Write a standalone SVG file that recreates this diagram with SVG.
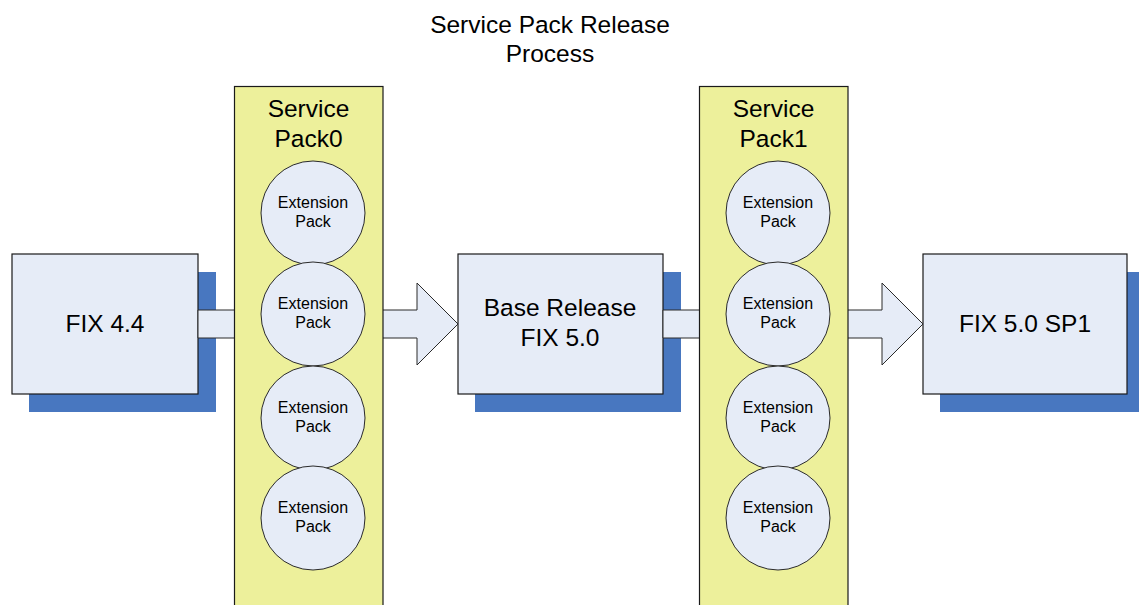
<svg xmlns="http://www.w3.org/2000/svg" width="1139" height="605" viewBox="0 0 1139 605">
<style>
text{font-family:"Liberation Sans",Arial,sans-serif;fill:#000;text-anchor:middle}
.big{font-size:24.5px}
.small{font-size:16px}
.shadow{fill:#4877C0}
.box{fill:#E6ECF7;stroke:#1a1a1a;stroke-width:1.2}
.arrow{fill:#E6ECF7;stroke:#2a2a2a;stroke-width:1}
.sp{fill:#EDF09B;stroke:#1a1a1a;stroke-width:1.2}
.ext{fill:#E6ECF7;stroke:#2a2a2a;stroke-width:1}
</style>
<rect width="1139" height="605" fill="#fff"/>
<g id="title">
<text class="big" x="550" y="33">Service Pack Release</text>
<text class="big" x="550" y="62">Process</text>
</g>
<g id="fix44">
<rect class="shadow" x="29" y="272" width="187" height="140"/>
<rect class="box" x="12" y="254" width="186" height="140"/>
<text class="big" x="105" y="332">FIX 4.4</text>
</g>
<g id="base">
<rect class="shadow" x="475" y="272" width="206" height="140"/>
<rect class="box" x="458" y="254" width="205" height="140"/>
<text class="big" x="560" y="316">Base Release</text>
<text class="big" x="560" y="346">FIX 5.0</text>
</g>
<g id="fix50sp1">
<rect class="shadow" x="940" y="272" width="210" height="140"/>
<rect class="box" x="923" y="254" width="204" height="140"/>
<text class="big" x="1025" y="332">FIX 5.0 SP1</text>
</g>
<g id="connectors">
<polygon class="arrow" points="198,310 417,310 417,283 458,324 417,365 417,338 198,338"/>
<polygon class="arrow" points="663,310 882,310 882,283 923,324 882,365 882,338 663,338"/>
</g>
<g id="sp0">
<rect class="sp" x="234.5" y="86.5" width="148.5" height="530"/>
<text class="big" x="308.5" y="117">Service</text>
<text class="big" x="308.5" y="147">Pack0</text>
<g id="sp0-ext1"><circle class="ext" cx="313" cy="213" r="52"/><text class="small" x="313" y="208">Extension</text><text class="small" x="313" y="227">Pack</text></g>
<g id="sp0-ext2"><circle class="ext" cx="313" cy="314" r="52"/><text class="small" x="313" y="309">Extension</text><text class="small" x="313" y="328">Pack</text></g>
<g id="sp0-ext3"><circle class="ext" cx="313" cy="418" r="52"/><text class="small" x="313" y="413">Extension</text><text class="small" x="313" y="432">Pack</text></g>
<g id="sp0-ext4"><circle class="ext" cx="313" cy="518" r="52"/><text class="small" x="313" y="513">Extension</text><text class="small" x="313" y="532">Pack</text></g>
</g>
<g id="sp1">
<rect class="sp" x="699.5" y="86.5" width="148.5" height="530"/>
<text class="big" x="773.5" y="117">Service</text>
<text class="big" x="773.5" y="147">Pack1</text>
<g id="sp1-ext1"><circle class="ext" cx="778" cy="213" r="52"/><text class="small" x="778" y="208">Extension</text><text class="small" x="778" y="227">Pack</text></g>
<g id="sp1-ext2"><circle class="ext" cx="778" cy="314" r="52"/><text class="small" x="778" y="309">Extension</text><text class="small" x="778" y="328">Pack</text></g>
<g id="sp1-ext3"><circle class="ext" cx="778" cy="418" r="52"/><text class="small" x="778" y="413">Extension</text><text class="small" x="778" y="432">Pack</text></g>
<g id="sp1-ext4"><circle class="ext" cx="778" cy="518" r="52"/><text class="small" x="778" y="513">Extension</text><text class="small" x="778" y="532">Pack</text></g>
</g>
</svg>
